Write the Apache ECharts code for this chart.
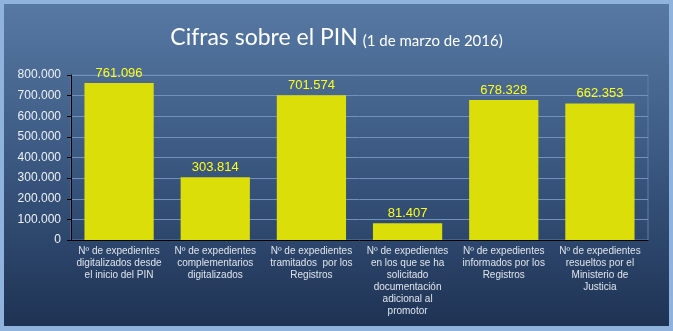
<!DOCTYPE html>
<html><head><meta charset="utf-8">
<script src="https://cdn.jsdelivr.net/npm/echarts@6/dist/echarts.min.js"></script>
<style>html,body{margin:0;padding:0;background:#8fb3dc}#c{width:673px;height:331px}</style>
</head><body><div id="c"></div>
<script>
const categories = [
  "Nº de expedientes\ndigitalizados desde\nel inicio del PIN",
  "Nº de expedientes\ncomplementarios\ndigitalizados",
  "Nº de expedientes\ntramitados  por los\nRegistros",
  "Nº de expedientes\nen los que se ha\nsolicitado\ndocumentación\nadicional al\npromotor",
  "Nº de expedientes\ninformados por los\nRegistros",
  "Nº de expedientes\nresueltos por el\nMinisterio de\nJusticia"
];
const values = [761096, 303814, 701574, 81407, 678328, 662353];
const yTicks = [0, 100000, 200000, 300000, 400000, 500000, 600000, 700000, 800000];

function fmt(v){ return String(v).replace(/\B(?=(\d{3})+(?!\d))/g, '.'); }

const chart = echarts.init(document.getElementById('c'), null, {renderer:'canvas'});
chart.setOption({
  backgroundColor: '#8fb3dc',
  animation: false,
  graphic: [{
    type: 'rect', left: 4, top: 4, z: -10, silent: true,
    shape: {width: 665, height: 322},
    style: {fill: new echarts.graphic.LinearGradient(0,0,0,1,[
      {offset:0, color:'#5679a3'}, {offset:0.5, color:'#3a5780'}, {offset:1, color:'#1e3354'}
    ])}
  }],
  title: {
    left: 'center', top: 21,
    text: '{a|Cifras sobre el PIN} {b|(1 de marzo de 2016)}',
    textStyle: {
      fontWeight: 'normal',
      rich: {
        a: {fontFamily: 'Lato', fontSize: 23, fontWeight: 'normal', color: '#ffffff'},
        b: {fontFamily: 'Lato', fontSize: 15, fontWeight: 'normal', color: '#ffffff', verticalAlign: 'bottom', padding:[4,0,0,0]}
      }
    }
  },
  grid: {left: 71, right: 25, top: 75, bottom: 91, show: true, borderColor: '#5e80aa', borderWidth: 1, backgroundColor: 'transparent'},
  xAxis: {
    type: 'category', data: categories,
    axisLine: {lineStyle: {color: '#000', width: 1}},
    axisTick: {show: false},
    axisLabel: {interval: 0, color: '#dfe4ec', fontFamily: 'Arial', fontSize: 10, lineHeight: 12, margin: 5}
  },
  yAxis: {
    type: 'value', min: yTicks[0], max: yTicks[yTicks.length-1], interval: 100000,
    axisLine: {show: true, lineStyle: {color: '#000', width: 1}},
    axisTick: {show: true, length: 4, lineStyle: {color: '#000'}},
    splitLine: {lineStyle: {color: '#7191ba', width: 1}},
    axisLabel: {color: '#eef1f6', fontFamily: 'Arial', fontSize: 12, margin: 10, formatter: fmt}
  },
  series: [{
    type: 'bar', data: values, barWidth: '72%',
    itemStyle: {color: '#dcde0a'},
    label: {show: true, position: 'top', distance: 3, color: '#ffff1a', fontFamily: 'Arial', fontSize: 13, formatter: p => fmt(p.value)}
  }]
});
</script></body></html>
